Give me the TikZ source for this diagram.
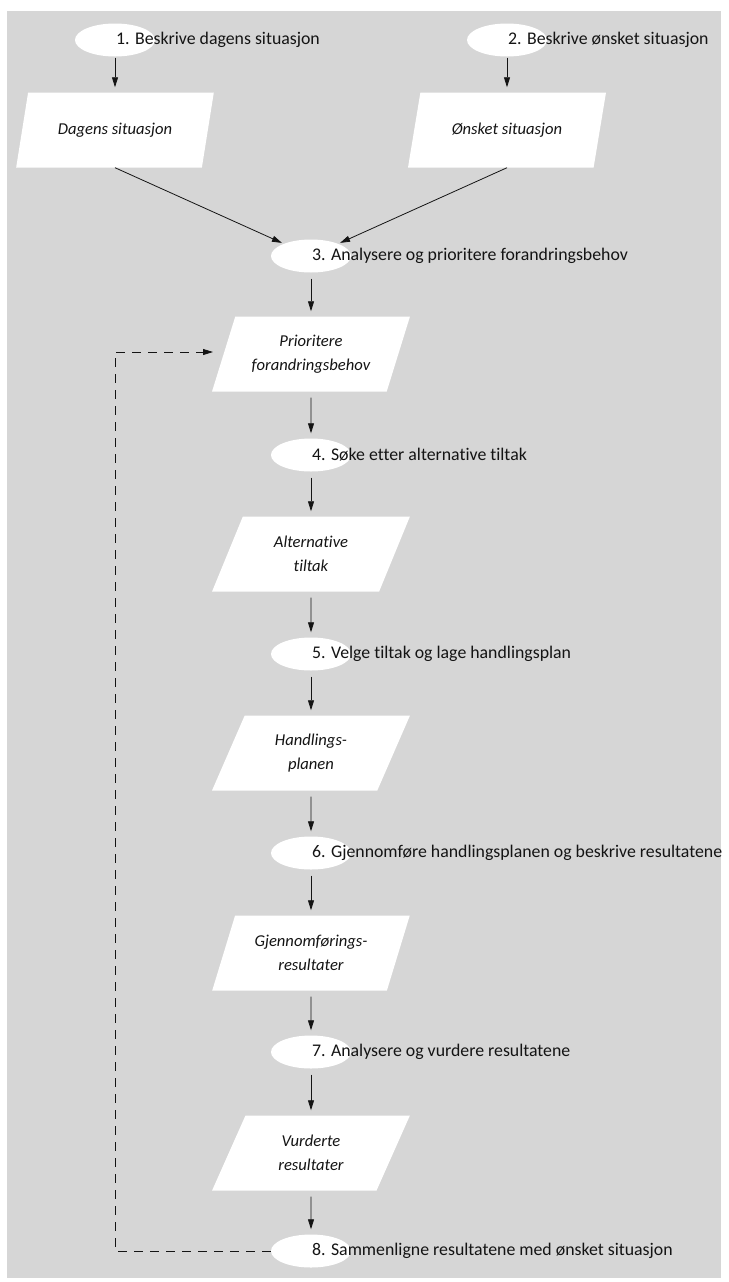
\documentclass[tikz,border=0pt]{standalone}
\usepackage{fontspec}
\setmainfont[Ligatures=NoCommon]{Carlito}
\usetikzlibrary{arrows.meta,shapes.geometric}
\definecolor{panelgray}{RGB}{214,214,214}
\definecolor{inkblack}{RGB}{20,20,20}

\tikzset{
  proc/.style={ellipse, fill=white, minimum width=80pt, minimum height=33pt, inner sep=0pt},
  proctext/.style={anchor=west, xshift=1pt, inner sep=0pt, text=inkblack, font=\fontsize{17.8}{21}\selectfont},
  doc/.style={trapezium, trapezium left angle=66, trapezium right angle=114,
    trapezium stretches=true, fill=white, minimum width=198pt, minimum height=75pt,
    inner sep=2pt, align=center, text=inkblack, font=\fontsize{16.6}{24}\selectfont\itshape},
  flow/.style={-{Triangle[length=10pt,width=6pt]}, draw=inkblack, line width=0.8pt,
    shorten <=6pt, shorten >=5pt},
  feedback/.style={-{Triangle[length=10pt,width=6pt]}, draw=inkblack, line width=0.8pt,
    dash pattern=on 9pt off 7pt}
}

\begin{document}
\begin{tikzpicture}[x=1pt, y=-1pt]
  \useasboundingbox (0,0) rectangle (728,1282);
  % Background panel
  \fill[panelgray] (7,11) rectangle (721,1278);

  % Steps 1 and 2
  \node[proc] (e1) at (115,40) {};
  \node[proc] (e2) at (507,40) {};
  \node[proctext] (t1) at (e1.center) {1. Beskrive dagens situasjon};
  \node[proctext] (t2) at (e2.center) {2. Beskrive ønsket situasjon};

  \node[doc] (p1) at (115,130) {Dagens situasjon};
  \node[doc] (p2) at (507,130) {Ønsket situasjon};

  % Main column
  \node[proc] (e3) at (311,256) {};
  \node[proc] (e4) at (311,455) {};
  \node[proc] (e5) at (311,654) {};
  \node[proc] (e6) at (311,853) {};
  \node[proc] (e7) at (311,1052) {};
  \node[proc] (e8) at (311,1251) {};

  \node[proctext] (t3) at (e3.center) {3. Analysere og prioritere forandringsbehov};
  \node[proctext] (t4) at (e4.center) {4. Søke etter alternative tiltak};
  \node[proctext] (t5) at (e5.center) {5. Velge tiltak og lage handlingsplan};
  \node[proctext] (t6) at (e6.center) {6. Gjennomføre handlingsplanen og beskrive resultatene};
  \node[proctext] (t7) at (e7.center) {7. Analysere og vurdere resultatene};
  \node[proctext] (t8) at (e8.center) {8. Sammenligne resultatene med ønsket situasjon};

  \node[doc] (p3) at (311,354) {Prioritere\\forandringsbehov};
  \node[doc] (p4) at (311,554) {Alternative\\tiltak};
  \node[doc] (p5) at (311,753) {Handlings-\\planen};
  \node[doc] (p6) at (311,953) {Gjennomførings-\\resultater};
  \node[doc] (p7) at (311,1153) {Vurderte\\resultater};

  % Arrows
  \draw[flow, shorten <=1pt] (e1) -- (p1);
  \draw[flow, shorten <=1pt] (e2) -- (p2);
  \draw[flow, shorten <=0pt, shorten >=2pt] (p1.south) -- (e3);
  \draw[flow, shorten <=0pt, shorten >=2pt] (p2.south) -- (e3);
  \draw[flow] (e3) -- (p3);
  \draw[flow] (p3) -- (e4);
  \draw[flow] (e4) -- (p4);
  \draw[flow] (p4) -- (e5);
  \draw[flow] (e5) -- (p5);
  \draw[flow] (p5) -- (e6);
  \draw[flow] (e6) -- (p6);
  \draw[flow] (p6) -- (e7);
  \draw[flow] (e7) -- (p7);
  \draw[flow] (p7) -- (e8);

  % Feedback loop
  \coordinate (fbend) at (213,352);
  \draw[feedback] (e8.west) -| ([xshift=-98pt]fbend) -- (fbend);
\end{tikzpicture}
\end{document}
